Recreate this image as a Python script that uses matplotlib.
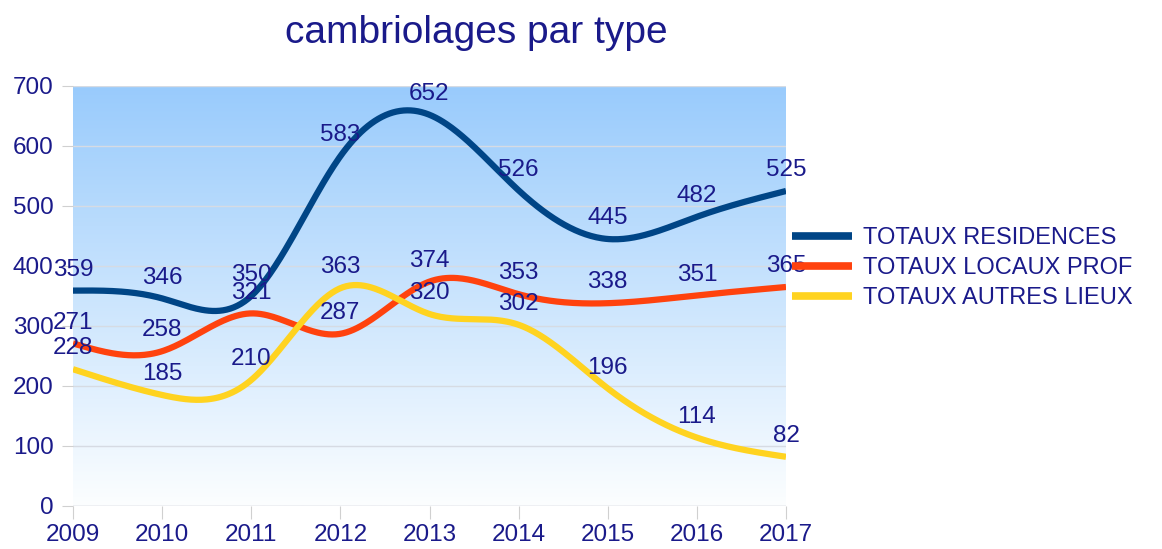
import numpy as np
import matplotlib.pyplot as plt

plt.rcParams['font.family'] = ['Liberation Sans', 'DejaVu Sans']

# données
annees = [2009, 2010, 2011, 2012, 2013, 2014, 2015, 2016, 2017]
residences = [359, 346, 350, 583, 652, 526, 445, 482, 525]
locaux_prof = [271, 258, 321, 287, 374, 353, 338, 351, 365]
autres_lieux = [228, 185, 210, 363, 320, 302, 196, 114, 82]

series = [
    ("TOTAUX RESIDENCES", residences, "#004586"),
    ("TOTAUX LOCAUX PROF", locaux_prof, "#ff420e"),
    ("TOTAUX AUTRES LIEUX", autres_lieux, "#ffd320"),
]

texte = "#1a1a8a"


def spline_naturelle(x, y, n=400):
    """Spline cubique naturelle (comme le lissage du tableur)."""
    x = np.asarray(x, float)
    y = np.asarray(y, float)
    k = len(x)
    h = np.diff(x)
    A = np.zeros((k, k))
    b = np.zeros(k)
    A[0, 0] = A[-1, -1] = 1
    for i in range(1, k - 1):
        A[i, i - 1] = h[i - 1]
        A[i, i] = 2 * (h[i - 1] + h[i])
        A[i, i + 1] = h[i]
        b[i] = 6 * ((y[i + 1] - y[i]) / h[i] - (y[i] - y[i - 1]) / h[i - 1])
    M = np.linalg.solve(A, b)
    xs = np.linspace(x[0], x[-1], n)
    idx = np.clip(np.searchsorted(x, xs) - 1, 0, k - 2)
    x0, x1 = x[idx], x[idx + 1]
    hh = x1 - x0
    t0, t1 = x1 - xs, xs - x0
    ys = (M[idx] * t0**3 + M[idx + 1] * t1**3) / (6 * hh) \
        + (y[idx] / hh - M[idx] * hh / 6) * t0 \
        + (y[idx + 1] / hh - M[idx + 1] * hh / 6) * t1
    return xs, ys


fig = plt.figure(figsize=(11.62, 5.49), dpi=100)
ax = fig.add_axes([73 / 1162, 43 / 549, 713 / 1162, 420 / 549])

# fond en dégradé bleu -> blanc
grad = np.linspace(1, 0, 256).reshape(-1, 1)
top = np.array([0x99, 0xcb, 0xfc]) / 255
bot = np.array([0xfc, 0xfe, 0xff]) / 255
img = bot + (top - bot) * grad[..., None]
ax.imshow(img, extent=[2009, 2017, 0, 700], aspect='auto', zorder=0)

ax.set_xlim(2009, 2017)
ax.set_ylim(0, 700)
ax.set_yticks(range(0, 701, 100))
ax.set_xticks(annees)
ax.grid(axis='y', color='#d6dbe3', linewidth=1, zorder=1)
for s in ax.spines.values():
    s.set_visible(False)
ax.axhline(0, color='#d9d9d9', linewidth=1, zorder=1)
ax.tick_params(axis='both', colors='#d0d0d0', labelcolor=texte, labelsize=17.5)
ax.tick_params(axis='y', length=8, pad=6)
ax.tick_params(axis='x', length=9, pad=4)

for nom, vals, couleur in series:
    xs, ys = spline_naturelle(annees, vals)
    ax.plot(xs, ys, color=couleur, linewidth=4.5, label=nom, zorder=3,
            solid_capstyle='butt')

for nom, vals, couleur in series:
    for x, v in zip(annees, vals):
        ax.annotate(str(v), (x, v), xytext=(0, 7), textcoords='offset points',
                    ha='center', va='bottom', fontsize=17.5, color=texte,
                    zorder=5, annotation_clip=False)

fig.text(476 / 1162, 1 - 33 / 549, "cambriolages par type", ha='center',
         va='center', fontsize=28, color=texte)

leg = fig.legend(loc='center left', bbox_to_anchor=(792 / 1162, 1 - 268 / 549),
                 frameon=False, fontsize=17, handlelength=2.55,
                 handletextpad=0.45, labelspacing=0.33, borderpad=0,
                 borderaxespad=0)
for t in leg.get_texts():
    t.set_color(texte)
for l in leg.get_lines():
    l.set_linewidth(5.5)

fig.savefig("out.png", dpi=100)
